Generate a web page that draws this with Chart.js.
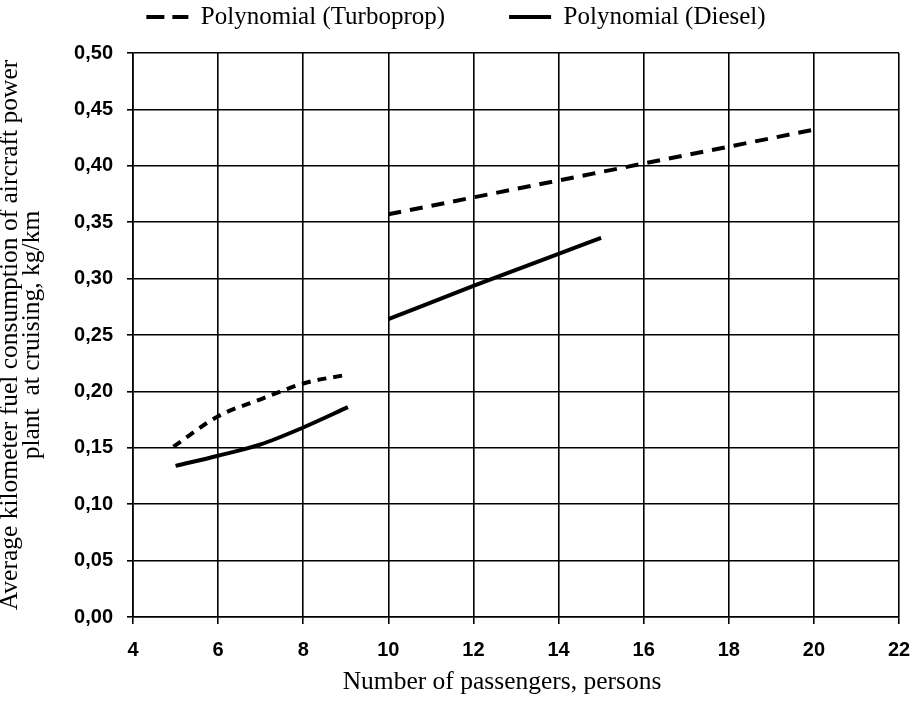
<!DOCTYPE html>
<html>
<head>
<meta charset="utf-8">
<script src="https://cdn.jsdelivr.net/npm/chart.js@4/dist/chart.umd.min.js"></script>
<style>
  html, body { margin: 0; padding: 0; background: #fff; }
  #wrap { width: 917px; height: 702px; }
</style>
</head>
<body>
<div id="wrap"><canvas id="fuelChart"></canvas></div>
<script>
// values (null = break between the two fitted ranges)
const turboX = [4.95, 6, 7, 8, 9.05, 9.5, 10, 12, 14, 16, 18, 20];
const turboY = [0.151, 0.178, 0.193, 0.207, 0.215, null, 0.357, 0.372, 0.387, 0.402, 0.417, 0.432];
const dieselX = [5, 6, 7, 8, 9.05, 9.5, 10, 12, 14, 15];
const dieselY = [0.134, 0.143, 0.153, 0.168, 0.186, null, 0.264, 0.2935, 0.322, 0.336];
const seriesNames = ['Polynomial (Turboprop)', 'Polynomial (Diesel)'];
const xTicks = [4, 6, 8, 10, 12, 14, 16, 18, 20, 22];
const yTicks = [0, 0.05, 0.10, 0.15, 0.20, 0.25, 0.30, 0.35, 0.40, 0.45, 0.50];

const toPoints = (xs, ys) => xs.map((x, i) => ({ x: x, y: ys[i] }));
const serif = '"Liberation Serif", "Times New Roman", serif';
const sans = '"Liberation Sans", Arial, sans-serif';
const legendDash = [[18, 8], []];

// fixed legend height so the plot starts where the original does
const legendTweak = {
    id: 'legendTweak',
    beforeInit(chart) {
        const lg = chart.legend;
        const fit = lg.fit;
        lg.fit = function () {
            fit.bind(lg)();
            this.height = 112.5;
        };
    },
    afterLayout(chart) {
        // x title sits a bit left of the plot centre in the original
        const s = chart.scales.x;
        if (s && !s._shifted) {
            const dt = s.drawTitle;
            s.drawTitle = function () {
                chart.ctx.save();
                chart.ctx.translate(-14, 0);
                dt.apply(s, arguments);
                chart.ctx.restore();
            };
            s._shifted = true;
        }
    }
};

const ctx = document.getElementById('fuelChart');
const fuelChart = new Chart(ctx, {
    type: 'line',
    data: {
        datasets: [{
            label: seriesNames[0],
            data: toPoints(turboX, turboY),
            borderColor: '#000',
            backgroundColor: '#000',
            borderWidth: 4,
            borderDash: [13, 9],
            segment: {
                borderDash: c => c.p0.parsed.x < 9.5 ? [9, 7] : [13, 9]
            },
            pointRadius: 0,
            cubicInterpolationMode: 'monotone',
            spanGaps: false
        }, {
            label: seriesNames[1],
            data: toPoints(dieselX, dieselY),
            borderColor: '#000',
            backgroundColor: '#000',
            borderWidth: 4,
            pointRadius: 0,
            cubicInterpolationMode: 'monotone',
            spanGaps: false
        }]
    },
    options: {
        responsive: true,
        maintainAspectRatio: false,
        animation: false,
        layout: { padding: { top: -59.5, right: 5, left: 0, bottom: 4 } },
        plugins: {
            legend: {
                position: 'top',
                labels: {
                    color: '#000',
                    font: { family: serif, size: 25 },
                    usePointStyle: true,
                    pointStyleWidth: 42,
                    pointStyle: 'line',
                    boxHeight: 12,
                    padding: 64,
                    generateLabels: chart => {
                        const items = Chart.defaults.plugins.legend.labels.generateLabels(chart);
                        items.forEach((it, i) => {
                            it.lineDash = legendDash[i];
                            it.lineWidth = 4;
                            it.strokeStyle = '#000';
                        });
                        return items;
                    }
                }
            },
            tooltip: { enabled: false }
        },
        scales: {
            x: {
                type: 'linear',
                min: 4,
                max: 22,
                afterBuildTicks: s => { s.ticks = xTicks.map(v => ({ value: v })); },
                afterFit: s => { s.height = 81; s.paddingRight = 18; },
                ticks: {
                    color: '#000',
                    font: { family: sans, size: 20, weight: 'bold' },
                    padding: 14,
                    maxRotation: 0
                },
                grid: { color: '#000', lineWidth: 1.6, tickLength: 7, tickColor: '#000' },
                border: { color: '#000', width: 1.6 },
                title: {
                    display: true,
                    text: 'Number of passengers, persons',
                    color: '#000',
                    font: { family: serif, size: 25.5 },
                    padding: { top: 0, bottom: 0 }
                }
            },
            y: {
                min: 0,
                max: 0.5,
                afterBuildTicks: s => { s.ticks = yTicks.map(v => ({ value: v })); },
                afterFit: s => { s.width = 133; },
                ticks: {
                    color: '#000',
                    font: { family: sans, size: 20, weight: 'bold' },
                    padding: 14,
                    callback: v => v.toFixed(2).replace('.', ',')
                },
                grid: { color: '#000', lineWidth: 1.6, tickLength: 6, tickColor: '#000' },
                border: { color: '#000', width: 1.6 },
                title: {
                    display: true,
                    text: ['Average kilometer fuel consumption of aircraft power', 'plant  at cruising, kg/km'],
                    color: '#000',
                    font: { family: serif, size: 25.5, lineHeight: 0.84 },
                    padding: { top: 0, bottom: 0 }
                }
            }
        }
    },
    plugins: [legendTweak]
});
</script>
</body>
</html>
